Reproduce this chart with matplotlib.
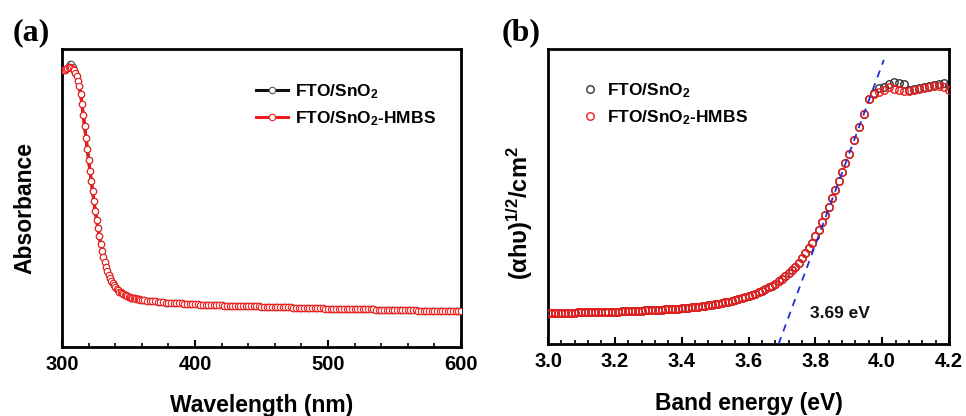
import numpy as np
import matplotlib
matplotlib.use("Agg")
import matplotlib.pyplot as plt
from matplotlib.ticker import MultipleLocator, NullLocator, FormatStrFormatter

plt.rcParams['font.family'] = ['Liberation Sans', 'DejaVu Sans']
plt.rcParams['font.weight'] = 'bold'
plt.rcParams['mathtext.fontset'] = 'custom'
plt.rcParams['mathtext.rm'] = 'Liberation Sans:bold'
plt.rcParams['mathtext.bf'] = 'Liberation Sans:bold'
plt.rcParams['mathtext.it'] = 'Liberation Sans:bold'

# ---------------- Panel (a): absorbance vs wavelength ----------------
wl_fine = np.arange(300, 361, 1)      # 300..360 nm
wl_coarse = np.arange(362, 601, 2)    # 362..600 nm
wavelength = np.concatenate([wl_fine, wl_coarse])

abs_hmbs_fine = [
    .930, .928, .930, .933, .936, .938, .938, .937, .934, .928,
    .920, .908, .893, .875, .850, .815, .778, .740, .702, .664,
    .627, .591, .556, .522, .489, .457, .427, .398, .371, .346,
    .323, .302, .284, .268, .254, .242, .232, .223, .215, .207,
    .200, .195, .190, .186, .183, .180, .177, .175, .173, .171,
    .169, .168, .166, .165, .164, .163, .162, .161, .160, .159,
    .158]
abs_hmbs_coarse = [
    .157, .156, .155, .154, .153, .152, .151, .150, .149, .149,
    .148, .147, .147, .146, .146, .145, .145, .144, .144, .143,
    .143, .142, .142, .142, .141, .141, .141, .140, .140, .140,
    .139, .139, .139, .138, .138, .138, .137, .137, .137, .137,
    .136, .136, .136, .136, .135, .135, .135, .135, .134, .134,
    .134, .134, .133, .133, .133, .133, .132, .132, .132, .132,
    .131, .131, .131, .131, .130, .130, .130, .130, .129, .129,
    .129, .129, .128, .128, .128, .128, .128, .127, .127, .127,
    .127, .127, .126, .126, .126, .126, .126, .125, .125, .125,
    .125, .125, .124, .124, .124, .124, .124, .123, .123, .123,
    .123, .123, .123, .122, .122, .122, .122, .122, .122, .121,
    .121, .121, .121, .121, .121, .121, .120, .120, .120, .120]
abs_hmbs = np.array(abs_hmbs_fine + abs_hmbs_coarse)

abs_bare = abs_hmbs.copy()
bare_peak_nm = [305, 306, 307, 308]
bare_peak_val = [0.944, 0.950, 0.948, 0.940]
for nm, v in zip(bare_peak_nm, bare_peak_val):
    abs_bare[wavelength == nm] = v

# ---------------- Panel (b): Tauc plot ----------------
energy = np.concatenate([np.arange(3.00, 3.895, 0.01),
                         np.arange(3.90, 4.2001, 0.015)])

tauc_hmbs = np.array([
    .104, .104, .104, .105, .105, .105, .106, .106, .106, .107,
    .107, .107, .108, .108, .108, .108, .109, .109, .109, .110,
    .110, .110, .111, .111, .111, .112, .112, .113, .113, .114,
    .114, .115, .115, .116, .116, .117, .118, .118, .119, .120,
    .121, .122, .123, .124, .125, .127, .128, .130, .131, .133,
    .135, .137, .139, .141, .144, .146, .149, .152, .155, .159,
    .163, .167, .171, .175, .180, .186, .192, .198, .205, .212,
    .220, .229, .239, .250, .262, .276, .291, .307, .325, .344,
    .365, .388, .412, .438, .465, .494, .523, .553, .584, .615,
    .645, .690, .735, .780, .830, .848, .853, .860, .870, .866,
    .860, .856, .856, .862, .866, .867, .870, .874, .876, .870,
    .862])

tauc_bare = tauc_hmbs.copy()
bare_top_E = [3.975, 3.990, 4.005, 4.020, 4.035, 4.050, 4.065, 4.080, 4.095,
              4.110, 4.125, 4.140, 4.155, 4.170, 4.185, 4.200]
bare_top_val = [.852, .868, .872, .880, .889, .886, .880, .862, .865,
                .868, .870, .873, .877, .880, .884, .878]
for e, v in zip(bare_top_E, bare_top_val):
    tauc_bare[np.isclose(energy, e, atol=1e-4)] = v

fit_E = [3.69, 4.005]
fit_y = [0.0, 0.963]
gap_label = "3.69 eV"

# ---------------- Figure ----------------
fig = plt.figure(figsize=(9.66, 4.16), dpi=100)
axA = fig.add_axes([0.0642, 0.1659, 0.4130, 0.7163])
axB = fig.add_axes([0.5673, 0.1731, 0.4151, 0.7091])

red = '#ee1c1c'
black = '#111111'

axA.plot(wavelength, abs_bare, '-o', color=black, lw=2.2, ms=4.6,
         mfc='white', mec='#555555', mew=0.8, label='FTO/SnO$_2$', zorder=2)
axA.plot(wavelength, abs_hmbs, '-o', color=red, lw=2.2, ms=4.6,
         mfc='white', mec=red, mew=0.8, label='FTO/SnO$_2$-HMBS', zorder=3)
axA.set_xlim(300, 600)
axA.set_ylim(0, 1)
axA.xaxis.set_major_locator(MultipleLocator(100))
axA.xaxis.set_minor_locator(MultipleLocator(20))
axA.yaxis.set_major_locator(NullLocator())
axA.set_xlabel('Wavelength (nm)', fontsize=16.5, fontweight='bold', labelpad=14)
axA.set_ylabel('Absorbance', fontsize=16.5, fontweight='bold')
axA.yaxis.set_label_coords(-0.063, 0.466)
legA = axA.legend(loc='upper left', bbox_to_anchor=(0.485, 0.888), frameon=False,
                  fontsize=12.5, handlelength=1.9, handletextpad=0.4,
                  labelspacing=0.45, borderpad=0, borderaxespad=0)

axB.plot(energy, tauc_bare, 'o', ls='none', ms=5.4, mfc='none', mec='#333333',
         mew=1.0, label='FTO/SnO$_2$', zorder=2)
axB.plot(energy, tauc_hmbs, 'o', ls='none', ms=5.4, mfc='none', mec=red,
         mew=1.0, label='FTO/SnO$_2$-HMBS', zorder=3)
axB.plot(fit_E, fit_y, ls=(0, (4, 3.5)), color='#1f2fd6', lw=1.3, zorder=4)
axB.text(3.875, 0.105, gap_label, fontsize=12.5, fontweight='bold',
         ha='center', va='center', color='#111111')
axB.set_xlim(3.0, 4.2)
axB.set_ylim(0, 1)
axB.xaxis.set_major_locator(MultipleLocator(0.2))
axB.xaxis.set_minor_locator(MultipleLocator(0.04))
axB.yaxis.set_major_locator(NullLocator())
axB.xaxis.set_major_formatter(FormatStrFormatter('%.1f'))
axB.set_xlabel('Band energy (eV)', fontsize=16.5, fontweight='bold', labelpad=15)
axB.set_ylabel(r'(αhυ)$^{\mathbf{1/2}}$/cm$^{\mathbf{2}}$', fontsize=17,
               fontweight='bold')
axB.yaxis.set_label_coords(-0.033, 0.444)
legB = axB.legend(loc='upper left', bbox_to_anchor=(0.083, 0.89), frameon=False,
                  fontsize=12.5, handlelength=1.0, handletextpad=0.5,
                  labelspacing=0.45, borderpad=0, borderaxespad=0)

for ax in (axA, axB):
    for s in ax.spines.values():
        s.set_linewidth(2.0)
        s.set_color('black')
    ax.tick_params(axis='x', which='major', direction='in', length=5, width=1.5,
                   labelsize=14.5, pad=6)
    ax.tick_params(axis='x', which='minor', direction='in', length=3, width=1.2)
    ax.tick_params(axis='y', which='both', left=False, labelleft=False)
    for lbl in ax.get_xticklabels():
        lbl.set_fontweight('bold')

fig.text(13 / 966, 1 - 33 / 416, '(a)', fontsize=23, fontweight='bold',
         family='Liberation Serif', ha='left', va='center')
fig.text(502 / 966, 1 - 33 / 416, '(b)', fontsize=23, fontweight='bold',
         family='Liberation Serif', ha='left', va='center')

fig.savefig('out.png', dpi=100)
